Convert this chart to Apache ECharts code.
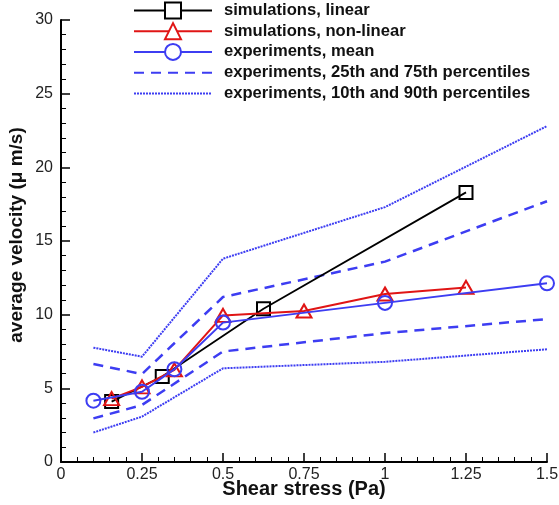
<!DOCTYPE html>
<html>
<head>
<meta charset="utf-8">
<script src="https://cdn.jsdelivr.net/npm/echarts@6/dist/echarts.min.js"></script>
<style>
html,body{margin:0;padding:0;background:#fff;}
#chart{width:559px;height:505px;}
</style>
</head>
<body>
<div id="chart"></div>
<script>
// ---- data ----
var xTicks = [0, 0.25, 0.5, 0.75, 1, 1.25, 1.5];
var yTicks = [0, 5, 10, 15, 20, 25, 30];

var xLinear = [0.15625, 0.3125, 0.625, 1.25];
var yLinear = [4.1, 5.8, 10.4, 18.3];

var xNonLinear = [0.15625, 0.25, 0.35, 0.5, 0.75, 1.0, 1.25];
var yNonLinear = [4.3, 5.1, 6.25, 9.95, 10.25, 11.4, 11.85];

var xMean = [0.1, 0.25, 0.35, 0.5, 1.0, 1.5];
var yMean = [4.16, 4.77, 6.3, 9.46, 10.8, 12.13];

var xPct = [0.1, 0.25, 0.5, 1.0, 1.5];
var p75 = [6.65, 5.97, 11.2, 13.6, 17.7];
var p25 = [2.96, 3.87, 7.5, 8.75, 9.7];
var p90 = [7.76, 7.15, 13.8, 17.3, 22.8];
var p10 = [2.0, 3.08, 6.36, 6.8, 7.65];

var names = [
  'simulations, linear',
  'simulations, non-linear',
  'experiments, mean',
  'experiments, 25th and 75th percentiles',
  'experiments, 10th and 90th percentiles'
];

function pairs(xs, ys) { return xs.map(function (x, i) { return [x, ys[i]]; }); }

var BLACK = '#000000', RED = '#e01515', BLUE = '#3d3df2';
var CLEAR = 'rgba(255,255,255,0)';
var FONT = 'Liberation Sans, Arial, Helvetica, sans-serif';

var chart = echarts.init(document.getElementById('chart'), null, {renderer: 'canvas'});

function pctSeries(name, ys, dash, width) {
  return {
    name: name, type: 'line', data: pairs(xPct, ys), symbol: 'none',
    lineStyle: {color: BLUE, width: width, type: dash},
    itemStyle: {color: CLEAR, borderWidth: 0},
    z: 2, silent: true, animation: false
  };
}

chart.setOption({
  animation: false,
  backgroundColor: '#ffffff',
  grid: {left: 61, right: 12, top: 20, bottom: 43, containLabel: false, outerBoundsMode: 'none'},
  legend: {
    orient: 'vertical', left: 133, top: 0, padding: 0,
    itemWidth: 78, itemHeight: 20, itemGap: 0,
    data: [
      {name: names[0], itemStyle: {color: '#fff'}},
      {name: names[1], itemStyle: {color: '#fff'}},
      {name: names[2], itemStyle: {color: '#fff'}},
      {name: names[3]},
      {name: names[4]}
    ],
    textStyle: {fontFamily: FONT, fontSize: 16.6, fontWeight: 'bold', color: '#111',
      lineHeight: 20.75, padding: [0, 0, 0, 7]},
    selectedMode: false
  },
  xAxis: {
    type: 'value', min: 0, max: 1.5, interval: 0.25,
    name: 'Shear stress (Pa)', nameLocation: 'middle', nameGap: 17, nameMoveOverlap: false,
    nameTextStyle: {fontFamily: FONT, fontSize: 20, fontWeight: 'bold', color: '#111'},
    axisLine: {show: true, onZero: false, lineStyle: {color: '#000', width: 2}},
    axisTick: {show: true, inside: true, length: 9, lineStyle: {color: '#000', width: 1.5}},
    minorTick: {show: true, splitNumber: 5, length: 5, lineStyle: {color: '#000', width: 1}},
    axisLabel: {fontFamily: FONT, fontSize: 16, color: '#222', margin: 5, hideOverlap: false,
      formatter: function (v) { return xTicks.indexOf(v) >= 0 ? String(v) : ''; }},
    splitLine: {show: false}
  },
  yAxis: {
    type: 'value', min: 0, max: 30, interval: 5,
    name: 'average velocity (μ m/s)', nameLocation: 'middle', nameGap: 35, nameMoveOverlap: false,
    nameTextStyle: {fontFamily: FONT, fontSize: 19, fontWeight: 'bold', color: '#111',
      padding: [0, 0, 0, 12]},
    axisLine: {show: true, onZero: false, lineStyle: {color: '#000', width: 2}},
    axisTick: {show: true, inside: true, length: 9, lineStyle: {color: '#000', width: 1.5}},
    minorTick: {show: true, splitNumber: 5, length: 5, lineStyle: {color: '#000', width: 1}},
    axisLabel: {fontFamily: FONT, fontSize: 16, color: '#222', margin: 8,
      formatter: function (v) { return yTicks.indexOf(v) >= 0 ? String(v) : ''; }},
    splitLine: {show: false}
  },
  series: [
    pctSeries(names[4], p90, [2, 1], 2),
    pctSeries(names[4], p10, [2, 1], 2),
    pctSeries(names[3], p75, [10, 7], 2.5),
    pctSeries(names[3], p25, [10, 7], 2.5),
    {
      name: names[0], type: 'line', data: pairs(xLinear, yLinear),
      symbol: 'rect', symbolSize: 13,
      lineStyle: {color: BLACK, width: 1.8},
      itemStyle: {color: CLEAR, borderColor: BLACK, borderWidth: 2},
      z: 3
    },
    {
      name: names[1], type: 'line', data: pairs(xNonLinear, yNonLinear),
      symbol: 'triangle', symbolSize: [15, 13],
      lineStyle: {color: RED, width: 2},
      itemStyle: {color: CLEAR, borderColor: RED, borderWidth: 2},
      z: 4
    },
    {
      name: names[2], type: 'line', data: pairs(xMean, yMean),
      symbol: 'circle', symbolSize: 14,
      lineStyle: {color: BLUE, width: 2},
      itemStyle: {color: CLEAR, borderColor: BLUE, borderWidth: 2},
      z: 5
    }
  ]
});
</script>
</body>
</html>
